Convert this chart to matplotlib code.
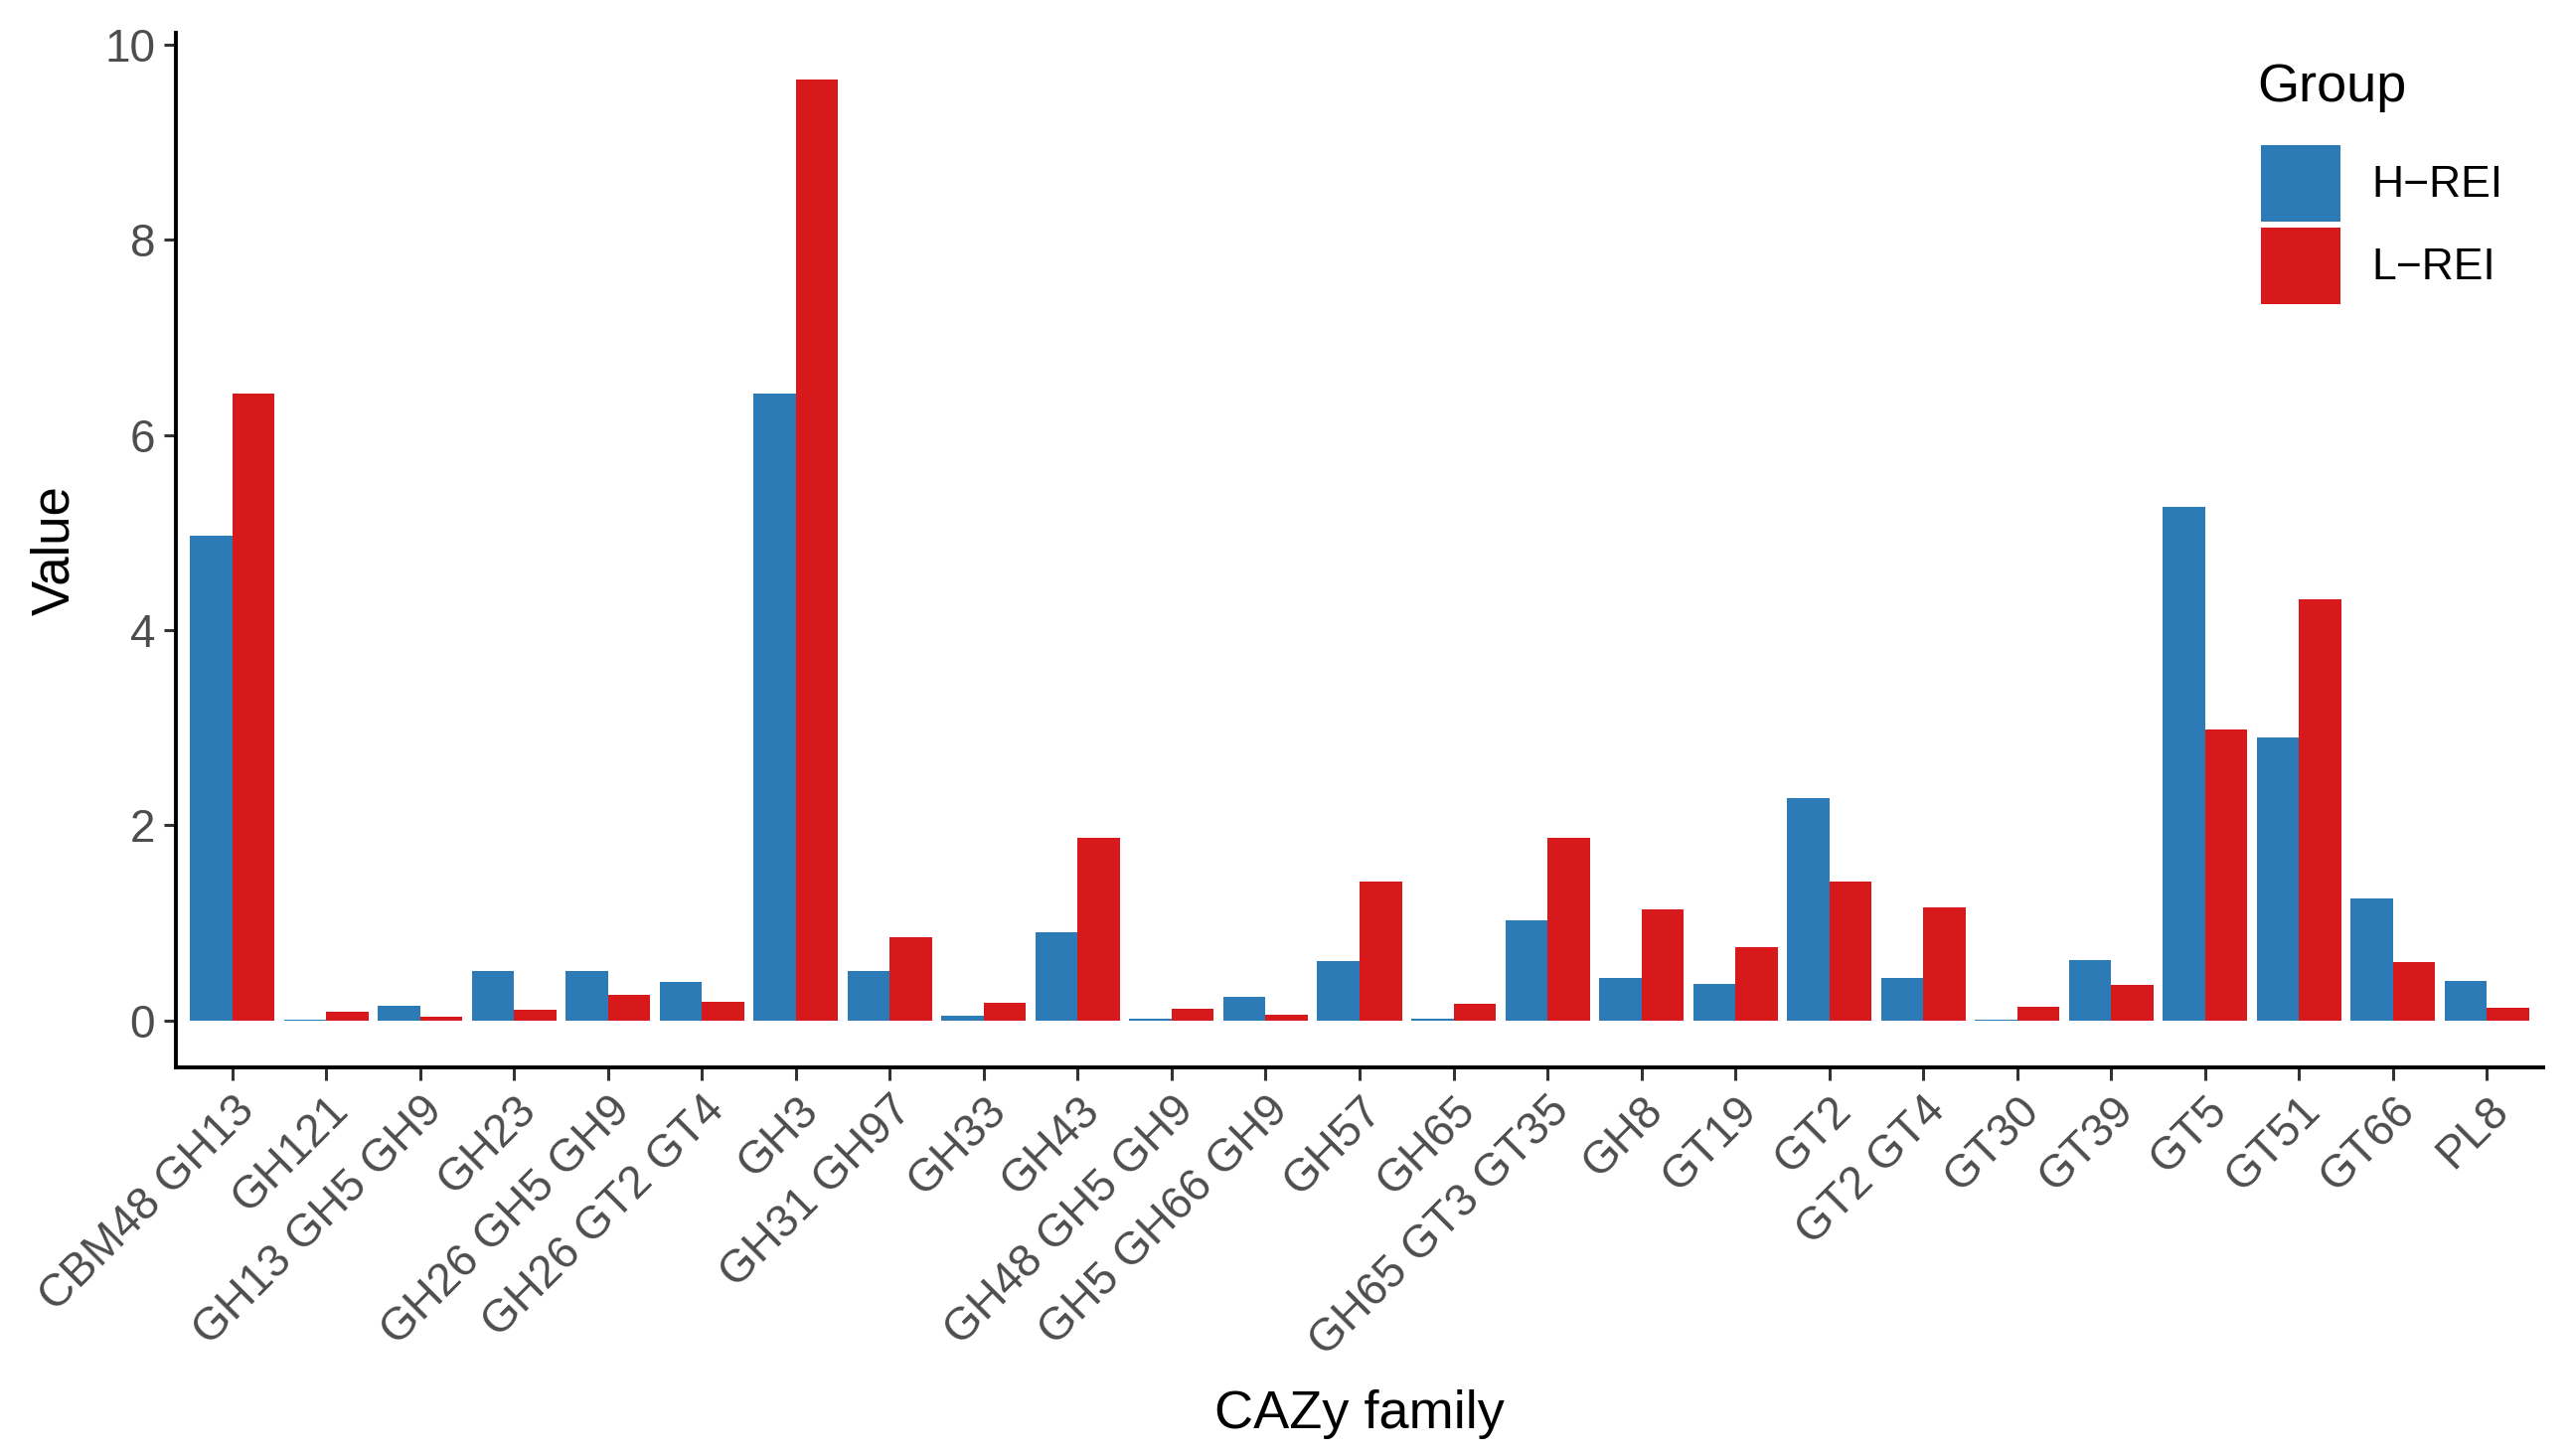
import numpy as np
import matplotlib.pyplot as plt
from matplotlib.patches import Patch

plt.rcParams['font.family'] = ['Liberation Sans', 'DejaVu Sans']

families = ['CBM48 GH13', 'GH121', 'GH13 GH5 GH9', 'GH23', 'GH26 GH5 GH9',
            'GH26 GT2 GT4', 'GH3', 'GH31 GH97', 'GH33', 'GH43', 'GH48 GH5 GH9',
            'GH5 GH66 GH9', 'GH57', 'GH65', 'GH65 GT3 GT35', 'GH8', 'GT19',
            'GT2', 'GT2 GT4', 'GT30', 'GT39', 'GT5', 'GT51', 'GT66', 'PL8']
h_rei = [4.97, 0.01, 0.15, 0.51, 0.51, 0.39, 6.42, 0.51, 0.05, 0.90, 0.015,
         0.24, 0.61, 0.015, 1.03, 0.43, 0.37, 2.28, 0.43, 0.005, 0.62, 5.26,
         2.90, 1.25, 0.40]
l_rei = [6.42, 0.085, 0.035, 0.11, 0.26, 0.19, 9.64, 0.85, 0.18, 1.87, 0.12,
         0.06, 1.42, 0.17, 1.87, 1.14, 0.75, 1.42, 1.16, 0.135, 0.36, 2.98,
         4.32, 0.60, 0.13]
groups = ['H\u2212REI', 'L\u2212REI']
colors = ['#2C7BB6', '#D7191C']

fig = plt.figure(figsize=(25.91, 14.65), dpi=100)
ax = fig.add_axes([177 / 2591, 1 - 1074 / 1465, (2559 - 177) / 2591, (1074 - 33) / 1465])

x = np.arange(len(families))
w = 0.45
ax.bar(x - w / 2, h_rei, width=w, color=colors[0], linewidth=0)
ax.bar(x + w / 2, l_rei, width=w, color=colors[1], linewidth=0)

ax.set_xlim(-0.6, len(families) - 0.4)
ax.set_ylim(-0.482, 10.122)
ax.set_yticks([0, 2, 4, 6, 8, 10])
ax.set_xticks(x)
ax.set_xticklabels(families, rotation=45, ha='right', rotation_mode='anchor')

for s in ['top', 'right']:
    ax.spines[s].set_visible(False)
for s in ['left', 'bottom']:
    ax.spines[s].set_linewidth(2.8)
    ax.spines[s].set_color('black')
ax.tick_params(axis='both', length=9, width=2.2, color='#333333',
               labelsize=33, labelcolor='#4D4D4D', pad=6)

ax.set_ylabel('Value', fontsize=38, color='black', va='center')
ax.yaxis.set_label_coords(-0.0512, 0.5)
ax.set_xlabel('CAZy family', fontsize=39, color='black', va='center')
ax.xaxis.set_label_coords(0.5, -0.335)

# legend: title drawn separately so the gap above the keys matches
fig.text(2271 / 2591, 1 - 88 / 1465, 'Group', fontsize=39, ha='left', va='center')
handles = [Patch(facecolor=c, edgecolor='none') for c in colors]
leg = ax.legend(handles, groups, loc='upper left',
                bbox_to_anchor=(2275 / 2591, 1 - 146 / 1465),
                bbox_transform=fig.transFigure, frameon=False, fontsize=32,
                handlelength=1.8, handleheight=2.3, borderaxespad=0,
                handletextpad=0.7, labelspacing=0.12, borderpad=0)

fig.savefig('out.png', dpi=100)
